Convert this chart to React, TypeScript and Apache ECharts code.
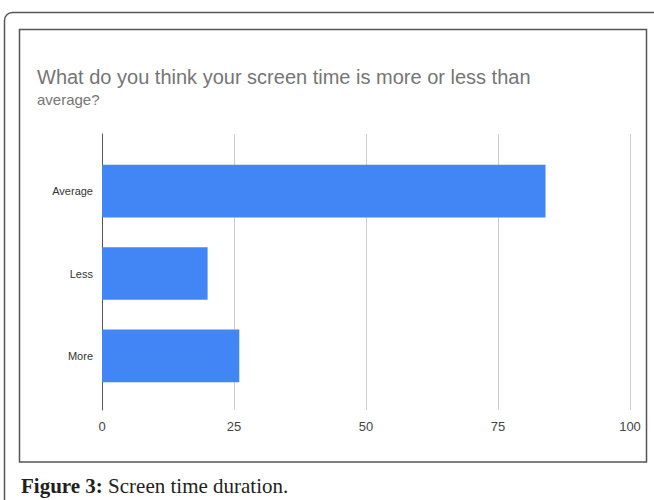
import React, { useEffect, useRef } from "react";
import * as echarts from "echarts";

const categories = ["Average", "Less", "More"];
const values = [84, 20, 26];
const xTicks = [0, 25, 50, 75, 100];

const TITLE_LINE1 = "What do you think your screen time is more or less than";
const TITLE_LINE2 = "average?";
const CAPTION_BOLD = "Figure 3:";
const CAPTION_TEXT = " Screen time duration.";

const SANS = "'Liberation Sans', Arial, sans-serif";

export default function App() {
  const ref = useRef<HTMLDivElement>(null);
  useEffect(() => {
    if (!ref.current) return;
    const chart = echarts.init(ref.current, undefined, { renderer: "svg" });
    chart.setOption({
      animation: false,
      backgroundColor: "#ffffff",
      title: {
        text: TITLE_LINE1,
        subtext: TITLE_LINE2,
        left: 37,
        top: 64,
        itemGap: 0,
        padding: 0,
        textStyle: { fontFamily: SANS, fontSize: 20, fontWeight: "normal", color: "#757575", lineHeight: 26 },
        subtextStyle: { fontFamily: SANS, fontSize: 15, color: "#757575", lineHeight: 18 },
      },
      grid: [
        { left: 102, right: 24, top: 134, bottom: 90 },
        { left: 102, right: 24, top: 150, height: 247 },
      ],
      xAxis: [
        {
          gridIndex: 0,
          type: "value",
          min: xTicks[0],
          max: xTicks[xTicks.length - 1],
          interval: 25,
          axisLine: { show: false },
          axisTick: { show: false },
          splitLine: { show: true, lineStyle: { color: "#cccccc", width: 1 } },
          axisLabel: { fontFamily: SANS, fontSize: 13, color: "#444444", margin: 10 },
        },
        {
          gridIndex: 1,
          type: "value",
          min: 0,
          max: 100,
          show: false,
        },
      ],
      yAxis: [
        {
          gridIndex: 0,
          type: "value",
          min: 0,
          max: 1,
          axisLine: { show: true, lineStyle: { color: "#555555", width: 1 } },
          axisTick: { show: false },
          axisLabel: { show: false },
          splitLine: { show: false },
        },
        {
          gridIndex: 1,
          type: "category",
          data: categories,
          inverse: true,
          axisLine: { show: false },
          axisTick: { show: false },
          splitLine: { show: false },
          axisLabel: { fontFamily: SANS, fontSize: 11, color: "#333333", margin: 9 },
        },
      ],
      series: [
        {
          type: "bar",
          xAxisIndex: 1,
          yAxisIndex: 1,
          data: values,
          barCategoryGap: "36%",
          itemStyle: { color: "#4285f4" },
          z: 5,
        },
      ],
      graphic: [
        {
          type: "rect",
          shape: { x: 4.5, y: 12.5, width: 700, height: 560, r: 8 },
          style: { fill: "none", stroke: "#555555", lineWidth: 1.5 },
          silent: true,
        },
        {
          type: "rect",
          shape: { x: 19.5, y: 29.5, width: 627, height: 432.5 },
          style: { fill: "none", stroke: "#555555", lineWidth: 1.5 },
          silent: true,
        },
        {
          type: "text",
          x: 21,
          y: 486,
          style: {
            text: "{b|" + CAPTION_BOLD + "}{r|" + CAPTION_TEXT + "}",
            verticalAlign: "middle",
            rich: {
              b: { fontFamily: "'Liberation Serif', serif", fontSize: 21, fontWeight: "bold", fill: "#231f20" },
              r: { fontFamily: "'Liberation Serif', serif", fontSize: 21, fill: "#231f20" },
            },
          },
        },
      ],
    });
    return () => chart.dispose();
  }, []);
  return <div ref={ref} style={{ position: "absolute", left: 0, top: 0, width: 654, height: 500 }} />;
}
